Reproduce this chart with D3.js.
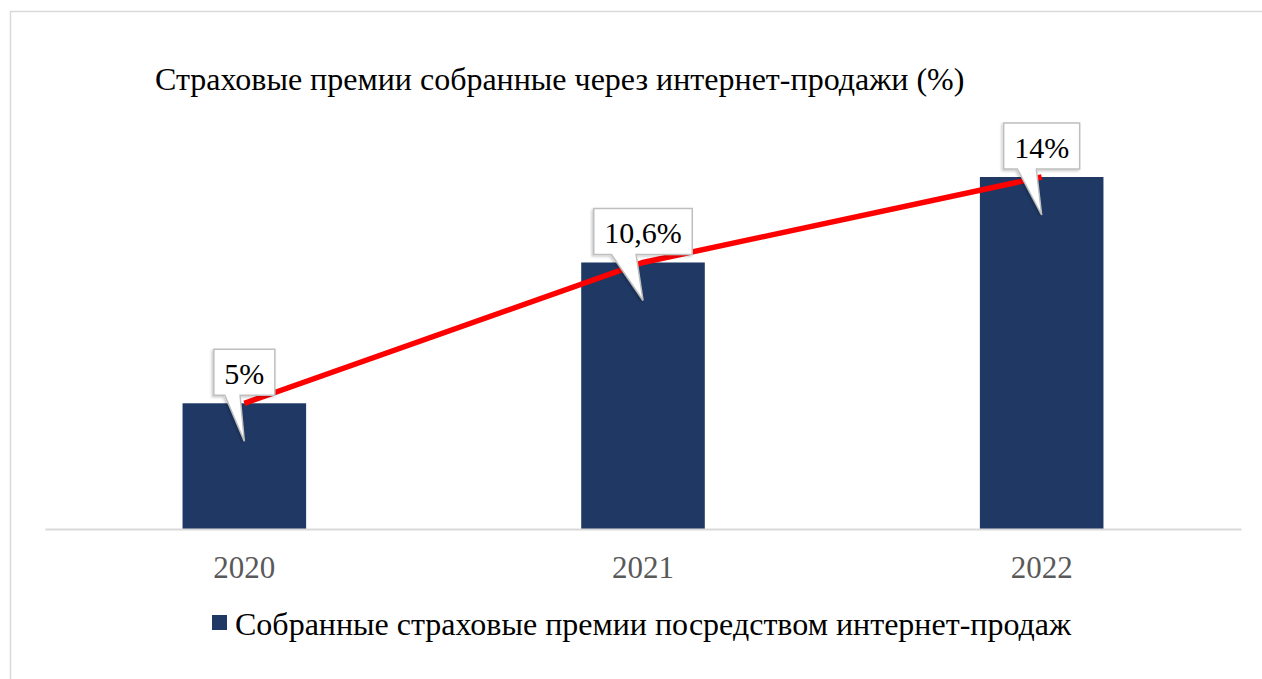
<!DOCTYPE html>
<html>
<head>
<meta charset="utf-8">
<script src="https://cdn.jsdelivr.net/npm/d3@7"></script>
<style>
  body { margin: 0; background: #fff; }
  svg { display: block; }
  svg text { font-family: "Liberation Serif", "Times New Roman", serif; }
</style>
</head>
<body>
<div id="chart"></div>
<script>
// chart data
const years = ["2020", "2021", "2022"];
const premiums = [5, 10.6, 14];
const valueLabels = ["5%", "10,6%", "14%"];
const chartTitle = "Страховые премии собранные через интернет-продажи (%)";
const seriesName = "Собранные страховые премии посредством интернет-продаж";

const serif = "Liberation Serif, Times New Roman, serif";
const width = 1262, height = 679;
const margin = {top: 177, right: 21, bottom: 153, left: 45};

const svg = d3.select("#chart")
  .append("svg")
    .attr("width", width)
    .attr("height", height);

// outer frame of the chart area
svg.append("rect")
  .attr("x", 10.5)
  .attr("y", 11.5)
  .attr("width", 1300)
  .attr("height", 700)
  .attr("fill", "none")
  .attr("stroke", "#d9d9d9")
  .attr("stroke-width", 1.5);

// title
svg.append("text")
  .attr("x", 155)
  .attr("y", 90)
  .attr("font-family", serif)
  .attr("font-size", "32px")
  .attr("fill", "#000")
  .text(chartTitle);

// scales
const x = d3.scaleBand()
  .domain(years)
  .range([margin.left, width - margin.right])
  .padding(0);

const y = d3.scaleLinear()
  .domain([0, d3.max(premiums)])
  .range([height - margin.bottom + 3, margin.top]);

const barW = x.bandwidth() * 0.31;
const cx = d => x(d) + x.bandwidth() / 2;

// bars
svg.append("g")
  .selectAll("rect")
  .data(years)
  .join("rect")
    .attr("x", d => cx(d) - barW / 2)
    .attr("y", (d, i) => y(premiums[i]))
    .attr("width", barW)
    .attr("height", (d, i) => y(0) - y(premiums[i]))
    .attr("fill", "#1f3864");

// x axis
const xAxis = svg.append("g")
  .attr("transform", `translate(0,${y(0)})`)
  .call(d3.axisBottom(x).tickSize(0).tickPadding(0));
xAxis.select(".domain")
  .attr("stroke", "#d9d9d9")
  .attr("stroke-width", 2);
xAxis.selectAll("text")
  .attr("dy", null)
  .attr("y", 49)
  .attr("font-family", serif)
  .attr("font-size", "31px")
  .attr("fill", "#595959");

// red trend line
const line = d3.line()
  .x(d => cx(d.year))
  .y(d => y(d.value));

svg.append("path")
  .datum(years.map((yr, i) => ({year: yr, value: premiums[i]})))
  .attr("fill", "none")
  .attr("stroke", "#ff0000")
  .attr("stroke-width", 5.5)
  .attr("d", line);

// shadow for callouts
const defs = svg.append("defs");
const shadow = defs.append("filter")
  .attr("id", "shadow")
  .attr("x", "-20%").attr("y", "-20%")
  .attr("width", "140%").attr("height", "140%");
shadow.append("feDropShadow")
  .attr("dx", -1.5).attr("dy", 1.5)
  .attr("stdDeviation", 1.2)
  .attr("flood-color", "#000")
  .attr("flood-opacity", 0.2);

// callout data labels
const callouts = svg.append("g")
  .selectAll("g")
  .data(years)
  .join("g");

callouts.each(function(d, i) {
  const g = d3.select(this);
  const top = y(premiums[i]);
  const c = cx(d);
  const path = g.append("path");
  const txt = g.append("text")
    .attr("x", c)
    .attr("y", top - 19)
    .attr("text-anchor", "middle")
    .attr("font-family", serif)
    .attr("font-size", "30px")
    .attr("fill", "#000")
    .text(valueLabels[i]);
  const w = txt.node().getComputedTextLength() + 21;
  const x0 = c - w / 2, x1 = c + w / 2;
  const y0 = top - 54, y1 = top - 8;
  const b0 = x0 + w * 0.18, b1 = x0 + w * 0.43;
  path
    .attr("d", `M${x0},${y0}H${x1}V${y1}H${b1}L${c},${top + 38}L${b0},${y1}H${x0}Z`)
    .attr("fill", "#fff")
    .attr("stroke", "#bfbfbf")
    .attr("stroke-width", 1.5)
    .attr("filter", "url(#shadow)");
});

// legend
const legend = svg.append("g").attr("transform", "translate(212,615)");
legend.append("rect")
  .attr("width", 15)
  .attr("height", 15)
  .attr("fill", "#1f3864");
legend.append("text")
  .attr("x", 23)
  .attr("y", 20)
  .attr("font-family", serif)
  .attr("font-size", "32px")
  .attr("fill", "#000")
  .text(seriesName);
</script>
</body>
</html>
